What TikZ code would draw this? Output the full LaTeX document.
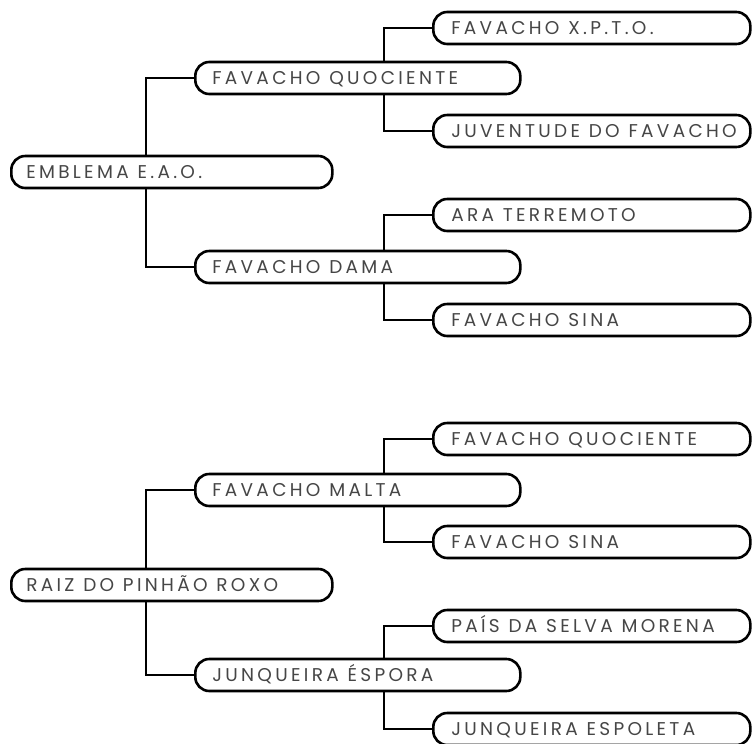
\documentclass[tikz,border=0pt]{standalone}
\usepackage{fontspec}
\newfontfamily\labelfont{Poppins}
\definecolor{txtgray}{RGB}{70,70,70}
\pgfdeclarelayer{background}
\pgfsetlayers{background,main}
\newdimen\lgap \lgap=3.3pt
\newdimen\wgap \wgap=5.5pt
\makeatletter
\def\spreadtxt#1{\mbox{\spread@a#1 \@nil}}
\def\spread@a#1 #2\@nil{\spread@word#1\spread@end\ifx\relax#2\relax\else\hskip\wgap\spread@a#2\@nil\fi}
\def\spread@end{\spread@end}
\def\spread@word#1{\ifx#1\spread@end\else#1\kern\lgap\expandafter\spread@word\fi}
\makeatother
\tikzset{
  box/.style={draw=black, line width=2.6pt, rounded corners=14pt, fill=white,
    minimum height=32pt, text height=12.8pt, text depth=0pt, inner ysep=0pt,
    anchor=west, align=left, text=txtgray, font=\labelfont\fontsize{18.5}{21}\selectfont},
  rootbox/.style={box, inner xsep=15pt, text width=291pt},
  lonebox/.style={box, inner xsep=17pt, text width=291pt},
  ltwobox/.style={box, inner xsep=18pt, text width=281pt},
  link/.style={draw=black, line width=2.6pt}
}
\begin{document}
\begin{tikzpicture}[x=1pt,y=-1pt]
\useasboundingbox (0,0) rectangle (753,744);
% top family
\node[rootbox] (r1) at (10,172) {\spreadtxt{EMBLEMA E.A.O.}};
\node[lonebox] (a1) at (194,78) {\spreadtxt{FAVACHO QUOCIENTE}};
\node[lonebox] (b1) at (194,267) {\spreadtxt{FAVACHO DAMA}};
\node[ltwobox] (a1a) at (432,28) {\spreadtxt{FAVACHO X.P.T.O.}};
\node[ltwobox] (a1b) at (432,131) {\spreadtxt{JUVENTUDE DO FAVACHO}};
\node[ltwobox] (b1a) at (432,215) {\spreadtxt{ARA TERREMOTO}};
\node[ltwobox] (b1b) at (432,320) {\spreadtxt{FAVACHO SINA}};
% bottom family
\node[rootbox] (r2) at (10,585) {\spreadtxt{RAIZ DO PINHÃO ROXO}};
\node[lonebox] (a2) at (194,490) {\spreadtxt{FAVACHO MALTA}};
\node[lonebox] (b2) at (194,675) {\spreadtxt{JUNQUEIRA ÉSPORA}};
\node[ltwobox] (a2a) at (432,439) {\spreadtxt{FAVACHO QUOCIENTE}};
\node[ltwobox] (a2b) at (432,542) {\spreadtxt{FAVACHO SINA}};
\node[ltwobox] (b2a) at (432,626) {\spreadtxt{PAÍS DA SELVA MORENA}};
\node[ltwobox] (b2b) at (432,729) {\spreadtxt{JUNQUEIRA ESPOLETA}};
% trunk x positions
\coordinate (tr) at (146,0);
\coordinate (tl) at (384,0);
\begin{pgfonlayer}{background}
\draw[link] (a1.west) -| (tr |- r1) |- (b1.west);
\draw[link] (a1a.west) -| (tl |- a1) |- (a1b.west);
\draw[link] (b1a.west) -| (tl |- b1) |- (b1b.west);
\draw[link] (a2.west) -| (tr |- r2) |- (b2.west);
\draw[link] (a2a.west) -| (tl |- a2) |- (a2b.west);
\draw[link] (b2a.west) -| (tl |- b2) |- (b2b.west);
\end{pgfonlayer}
\end{tikzpicture}
\end{document}
